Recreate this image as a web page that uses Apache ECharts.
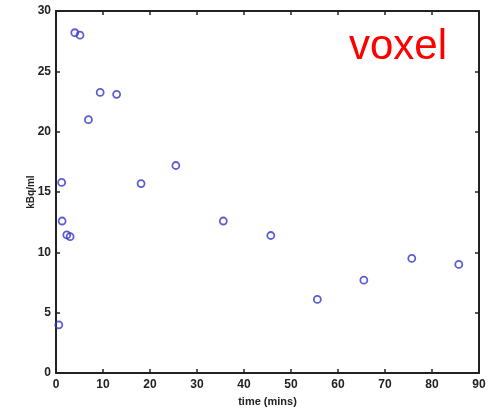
<!DOCTYPE html>
<html>
<head>
<meta charset="utf-8">
<script src="https://cdn.jsdelivr.net/npm/echarts@6/dist/echarts.min.js"></script>
<style>
  html, body { margin: 0; padding: 0; background: #fff; }
  #chart { width: 495px; height: 412px; }
</style>
</head>
<body>
<div id="chart"></div>
<script>
// time (mins) and activity (kBq/ml)
var timeMins = [0.6, 1.2, 1.3, 2.3, 3.0, 4.0, 5.1, 6.9, 9.4, 12.9, 18.1, 25.5, 35.6, 45.7, 55.6, 65.5, 75.7, 85.7];
var kbqMl   = [4.0, 15.8, 12.6, 11.45, 11.3, 28.2, 28.0, 21.0, 23.25, 23.1, 15.7, 17.2, 12.6, 11.4, 6.1, 7.7, 9.5, 9.0];
var xTicks = [0, 10, 20, 30, 40, 50, 60, 70, 80, 90];
var yTicks = [0, 5, 10, 15, 20, 25, 30];

var points = timeMins.map(function (t, i) { return [t, kbqMl[i]]; });

var lblStyle = { color: '#222', fontSize: 12, fontWeight: 'bold', fontFamily: 'Liberation Sans' };
var lineStyle = { show: true, onZero: false, lineStyle: { color: '#222', width: 2 } };
var tickStyle = { show: true, inside: true, length: 4, lineStyle: { color: '#222', width: 1.5 } };

var myChart = echarts.init(document.getElementById('chart'));
var option = {
    animation: false,
    grid: { left: 56, right: 16, top: 11, bottom: 36 },
    xAxis: [{
        type: 'value', min: xTicks[0], max: xTicks[xTicks.length - 1], interval: 10,
        name: 'time (mins)', nameLocation: 'middle', nameGap: 22,
        nameTextStyle: { color: '#222', fontSize: 11, fontWeight: 'bold', fontFamily: 'Liberation Sans' },
        axisLine: lineStyle, axisTick: tickStyle, splitLine: { show: false },
        axisLabel: Object.assign({ margin: 6 }, lblStyle)
    }, {
        type: 'value', position: 'top', min: 0, max: 90, interval: 10,
        axisLine: lineStyle, axisTick: tickStyle, splitLine: { show: false },
        axisLabel: { show: false }
    }],
    yAxis: [{
        type: 'value', min: yTicks[0], max: yTicks[yTicks.length - 1], interval: 5,
        name: 'kBq/ml', nameLocation: 'middle', nameGap: 20, nameMoveOverlap: false,
        nameTextStyle: { color: '#222', fontSize: 10, fontWeight: 'bold', fontFamily: 'Liberation Sans' },
        axisLine: lineStyle, axisTick: tickStyle, splitLine: { show: false },
        axisLabel: Object.assign({ margin: 5 }, lblStyle)
    }, {
        type: 'value', position: 'right', min: 0, max: 30, interval: 5,
        axisLine: lineStyle, axisTick: tickStyle, splitLine: { show: false },
        axisLabel: { show: false }
    }],
    graphic: [{
        type: 'text', left: 349, top: 26,
        style: { text: 'voxel', fill: '#ff0000', font: '42px "Liberation Sans"' }
    }],
    series: [{
        type: 'scatter',
        data: points,
        symbol: 'circle',
        symbolSize: 7,
        itemStyle: { color: 'rgba(255,255,255,0)', borderColor: '#3535c8', borderWidth: 1.8 }
    }]
};
myChart.setOption(option);
</script>
</body>
</html>
